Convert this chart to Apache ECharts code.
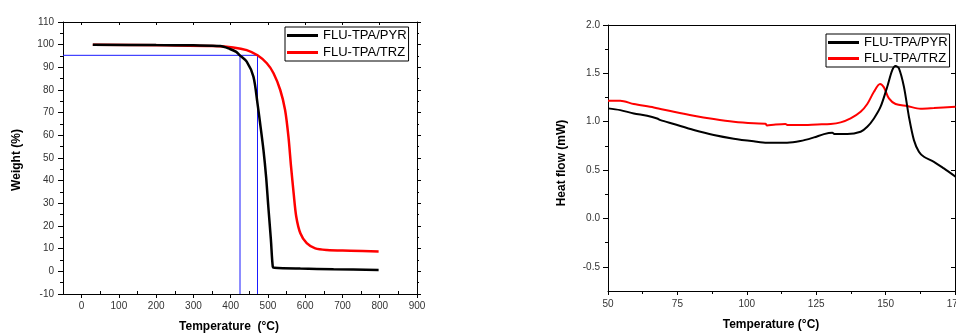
<!DOCTYPE html>
<html>
<head>
<meta charset="utf-8">
<title>TGA / DSC</title>
<script src="https://cdn.jsdelivr.net/npm/echarts@6/dist/echarts.min.js"></script>
<style>
  html, body { margin: 0; padding: 0; background: #fff; }
  #chart { width: 956px; height: 334px; }
</style>
</head>
<body>
<div id="chart"></div>
<script>
// TGA (left)
const tgaXTicks = [0, 100, 200, 300, 400, 500, 600, 700, 800, 900];
const tgaXMinor = [-50, 50, 150, 250, 350, 450, 550, 650, 750, 850];
const pyrTgaX = [30, 200, 300, 372, 398, 415, 424.5, 443, 461, 472, 479, 488, 495, 501, 508, 513, 517, 587, 676, 797];
const pyrTgaY = [100, 99.8, 99.7, 99.4, 98.1, 96.8, 95.3, 92.5, 85.9, 74, 65.3, 53.5, 41.8, 28.5, 13.8, 2, 1.6, 1.2, 0.9, 0.6];
const trzTgaX = [30, 228, 354, 407, 443, 472, 497, 515, 533, 546, 555, 562, 569, 576, 587, 604, 627, 658, 721, 797];
const trzTgaY = [100, 99.7, 99.4, 98.8, 97.6, 95.3, 91.8, 87.4, 80, 71.2, 59.4, 46.2, 34.4, 24.1, 16.8, 12.4, 10.1, 9.4, 9.1, 8.7];
// 5% weight-loss guide
const tdLevel = 95.3;
const tdPyr = 425;
const tdTrz = 472;

// DSC (right)
const dscYTicks = [-0.5, 0, 0.5, 1.0, 1.5, 2.0];
const dscYMinor = [-0.25, 0.25, 0.75, 1.25, 1.75];
const pyrDscX = [50, 54.4, 59.3, 64.1, 67.7, 68.9, 73.7, 80.9, 88.1, 95.3, 102.5, 107.3, 114.5, 119.3, 124.2, 127.8, 130.8, 131.7, 136.2, 141, 143.4, 145.8, 148.2, 150.6, 152.4, 153.6, 154.8, 156.6, 158.4, 160.2, 162, 163.8, 167.4, 171, 175.2];
const pyrDscY = [1.138, 1.12, 1.086, 1.062, 1.034, 1.017, 0.976, 0.914, 0.862, 0.824, 0.797, 0.783, 0.783, 0.8, 0.838, 0.872, 0.886, 0.872, 0.872, 0.897, 0.948, 1.034, 1.155, 1.362, 1.534, 1.576, 1.552, 1.362, 1.052, 0.81, 0.69, 0.638, 0.586, 0.517, 0.431];
const trzDscX = [50, 54.4, 59.3, 66.5, 73.7, 80.9, 88.1, 95.3, 102.5, 106.7, 107.3, 109.7, 113.9, 114.8, 119.3, 125.4, 130.2, 133.8, 137.4, 141, 143.4, 145.8, 148, 149.4, 151.2, 153.6, 157.8, 162.6, 167.4, 175.2];
const trzDscY = [1.217, 1.217, 1.183, 1.148, 1.103, 1.062, 1.028, 1.0, 0.983, 0.979, 0.962, 0.969, 0.976, 0.966, 0.966, 0.972, 0.976, 0.993, 1.034, 1.103, 1.183, 1.31, 1.39, 1.355, 1.241, 1.183, 1.162, 1.134, 1.141, 1.155];

const names = ['FLU-TPA/PYR', 'FLU-TPA/TRZ'];
const font = "'Liberation Sans', Arial, sans-serif";
const zip = (xs, ys) => xs.map((x, i) => [x, ys[i]]);

const myChart = echarts.init(document.getElementById('chart'));

const line = { onZero: false, lineStyle: { color: '#000', width: 1 } };
const noLine = { show: false, onZero: false };
const label = { color: '#333', fontSize: 10, fontFamily: font };
const noLabel = { show: false };

const option = {
    animation: false,
    grid: [
        { left: 63, top: 22, width: 354, height: 272, outerBoundsMode: 'none' },
        { left: 608, top: 25, width: 347, height: 266, outerBoundsMode: 'none' }
    ],
    legend: [
        {
            data: names, orient: 'vertical', left: 285, top: 27,
            icon: 'rect', itemWidth: 31, itemHeight: 3, itemGap: 4,
            padding: [2, 2, 2, 2], borderColor: '#000', borderWidth: 1,
            textStyle: { fontSize: 13, fontFamily: font, color: '#000' }
        },
        {
            data: names, orient: 'vertical', left: 826, top: 34,
            icon: 'rect', itemWidth: 31, itemHeight: 3, itemGap: 3,
            padding: [2, 2, 2, 2], borderColor: '#000', borderWidth: 1,
            textStyle: { fontSize: 13, fontFamily: font, color: '#000' }
        }
    ],
    xAxis: [
        // left chart
        {
            gridIndex: 0, type: 'value', position: 'bottom', min: -50, max: 900,
            axisLine: line, splitLine: { show: false },
            axisTick: { length: 4, customValues: tgaXTicks, lineStyle: { color: '#000' } },
            axisLabel: { ...label, margin: 7, customValues: tgaXTicks }
        },
        {
            gridIndex: 0, type: 'value', position: 'bottom', min: -50, max: 900,
            axisLine: noLine, splitLine: { show: false }, axisLabel: noLabel,
            axisTick: { inside: true, length: 3, customValues: tgaXMinor, lineStyle: { color: '#000' } }
        },
        {
            gridIndex: 0, type: 'value', position: 'top', min: -50, max: 900,
            axisLine: line, splitLine: { show: false }, axisLabel: noLabel,
            axisTick: { inside: true, length: 3, customValues: tgaXTicks, lineStyle: { color: '#000' } }
        },
        // right chart
        {
            gridIndex: 1, type: 'value', position: 'bottom', min: 50, max: 175, interval: 25,
            axisLine: line, splitLine: { show: false },
            axisTick: { length: 4, lineStyle: { color: '#000' } },
            minorTick: { show: true, splitNumber: 2, length: 3, lineStyle: { color: '#000' } },
            axisLabel: { ...label, margin: 8, showMaxLabel: true, hideOverlap: false }
        },
        {
            gridIndex: 1, type: 'value', position: 'top', min: 50, max: 175, interval: 25,
            axisLine: line, splitLine: { show: false }, axisLabel: noLabel,
            axisTick: { show: false }
        }
    ],
    yAxis: [
        // left chart
        {
            gridIndex: 0, type: 'value', position: 'left', min: -10, max: 110, interval: 10,
            axisLine: line, splitLine: { show: false },
            axisTick: { length: 5, lineStyle: { color: '#000' } },
            minorTick: { show: true, splitNumber: 2, length: 3, lineStyle: { color: '#000' } },
            axisLabel: { ...label, margin: 9 }
        },
        {
            gridIndex: 0, type: 'value', position: 'right', min: -10, max: 110, interval: 10,
            axisLine: line, splitLine: { show: false }, axisLabel: noLabel,
            axisTick: { length: 4, lineStyle: { color: '#000' } },
            minorTick: { show: true, splitNumber: 2, length: 2, lineStyle: { color: '#000' } }
        },
        // right chart
        {
            gridIndex: 1, type: 'value', position: 'left', min: -0.75, max: 2.0,
            axisLine: line, splitLine: { show: false },
            axisTick: { length: 5, customValues: dscYTicks, lineStyle: { color: '#000' } },
            axisLabel: { ...label, margin: 8, customValues: dscYTicks, formatter: v => v.toFixed(1) }
        },
        {
            gridIndex: 1, type: 'value', position: 'left', min: -0.75, max: 2.0,
            axisLine: noLine, splitLine: { show: false }, axisLabel: noLabel,
            axisTick: { length: 3, customValues: dscYMinor, lineStyle: { color: '#000' } }
        },
        {
            gridIndex: 1, type: 'value', position: 'right', min: -0.75, max: 2.0,
            axisLine: line, splitLine: { show: false }, axisLabel: noLabel,
            axisTick: { inside: true, length: 4, customValues: dscYTicks, lineStyle: { color: '#000' } }
        }
    ],
    series: [
        {
            name: 'guide', type: 'line', xAxisIndex: 0, yAxisIndex: 0, symbol: 'none',
            data: [[-50, tdLevel], [tdTrz, tdLevel], [tdTrz, -10]],
            lineStyle: { color: '#1a1aff', width: 1 }, z: 1
        },
        {
            name: 'guide2', type: 'line', xAxisIndex: 0, yAxisIndex: 0, symbol: 'none',
            data: [[tdPyr, tdLevel], [tdPyr, -10]],
            lineStyle: { color: '#1a1aff', width: 1 }, z: 1
        },
        {
            name: names[0], type: 'line', xAxisIndex: 0, yAxisIndex: 0, symbol: 'none', smooth: 0.3,
            data: zip(pyrTgaX, pyrTgaY), itemStyle: { color: '#000' },
            lineStyle: { color: '#000', width: 2.5 }, z: 3
        },
        {
            name: names[1], type: 'line', xAxisIndex: 0, yAxisIndex: 0, symbol: 'none', smooth: 0.3,
            data: zip(trzTgaX, trzTgaY), itemStyle: { color: '#ff0000' },
            lineStyle: { color: '#ff0000', width: 2.5 }, z: 2
        },
        {
            name: names[0], type: 'line', xAxisIndex: 3, yAxisIndex: 2, symbol: 'none', smooth: 0.3,
            data: zip(pyrDscX, pyrDscY), itemStyle: { color: '#000' },
            lineStyle: { color: '#000', width: 2 }, z: 3
        },
        {
            name: names[1], type: 'line', xAxisIndex: 3, yAxisIndex: 2, symbol: 'none', smooth: 0.3,
            data: zip(trzDscX, trzDscY), itemStyle: { color: '#ff0000' },
            lineStyle: { color: '#ff0000', width: 2 }, z: 2
        }
    ],
    graphic: [
        {
            type: 'text', x: 229, y: 327,
            style: { text: 'Temperature  (°C)', font: 'bold 12px ' + font, fill: '#000', align: 'center', verticalAlign: 'middle' }
        },
        {
            type: 'text', x: 17, y: 160, rotation: Math.PI / 2,
            style: { text: 'Weight (%)', font: 'bold 12px ' + font, fill: '#000', align: 'center', verticalAlign: 'middle' }
        },
        {
            type: 'text', x: 771, y: 325,
            style: { text: 'Temperature (°C)', font: 'bold 12px ' + font, fill: '#000', align: 'center', verticalAlign: 'middle' }
        },
        {
            type: 'text', x: 562, y: 163, rotation: Math.PI / 2,
            style: { text: 'Heat flow (mW)', font: 'bold 12px ' + font, fill: '#000', align: 'center', verticalAlign: 'middle' }
        }
    ]
};

option && myChart.setOption(option);
</script>
</body>
</html>
